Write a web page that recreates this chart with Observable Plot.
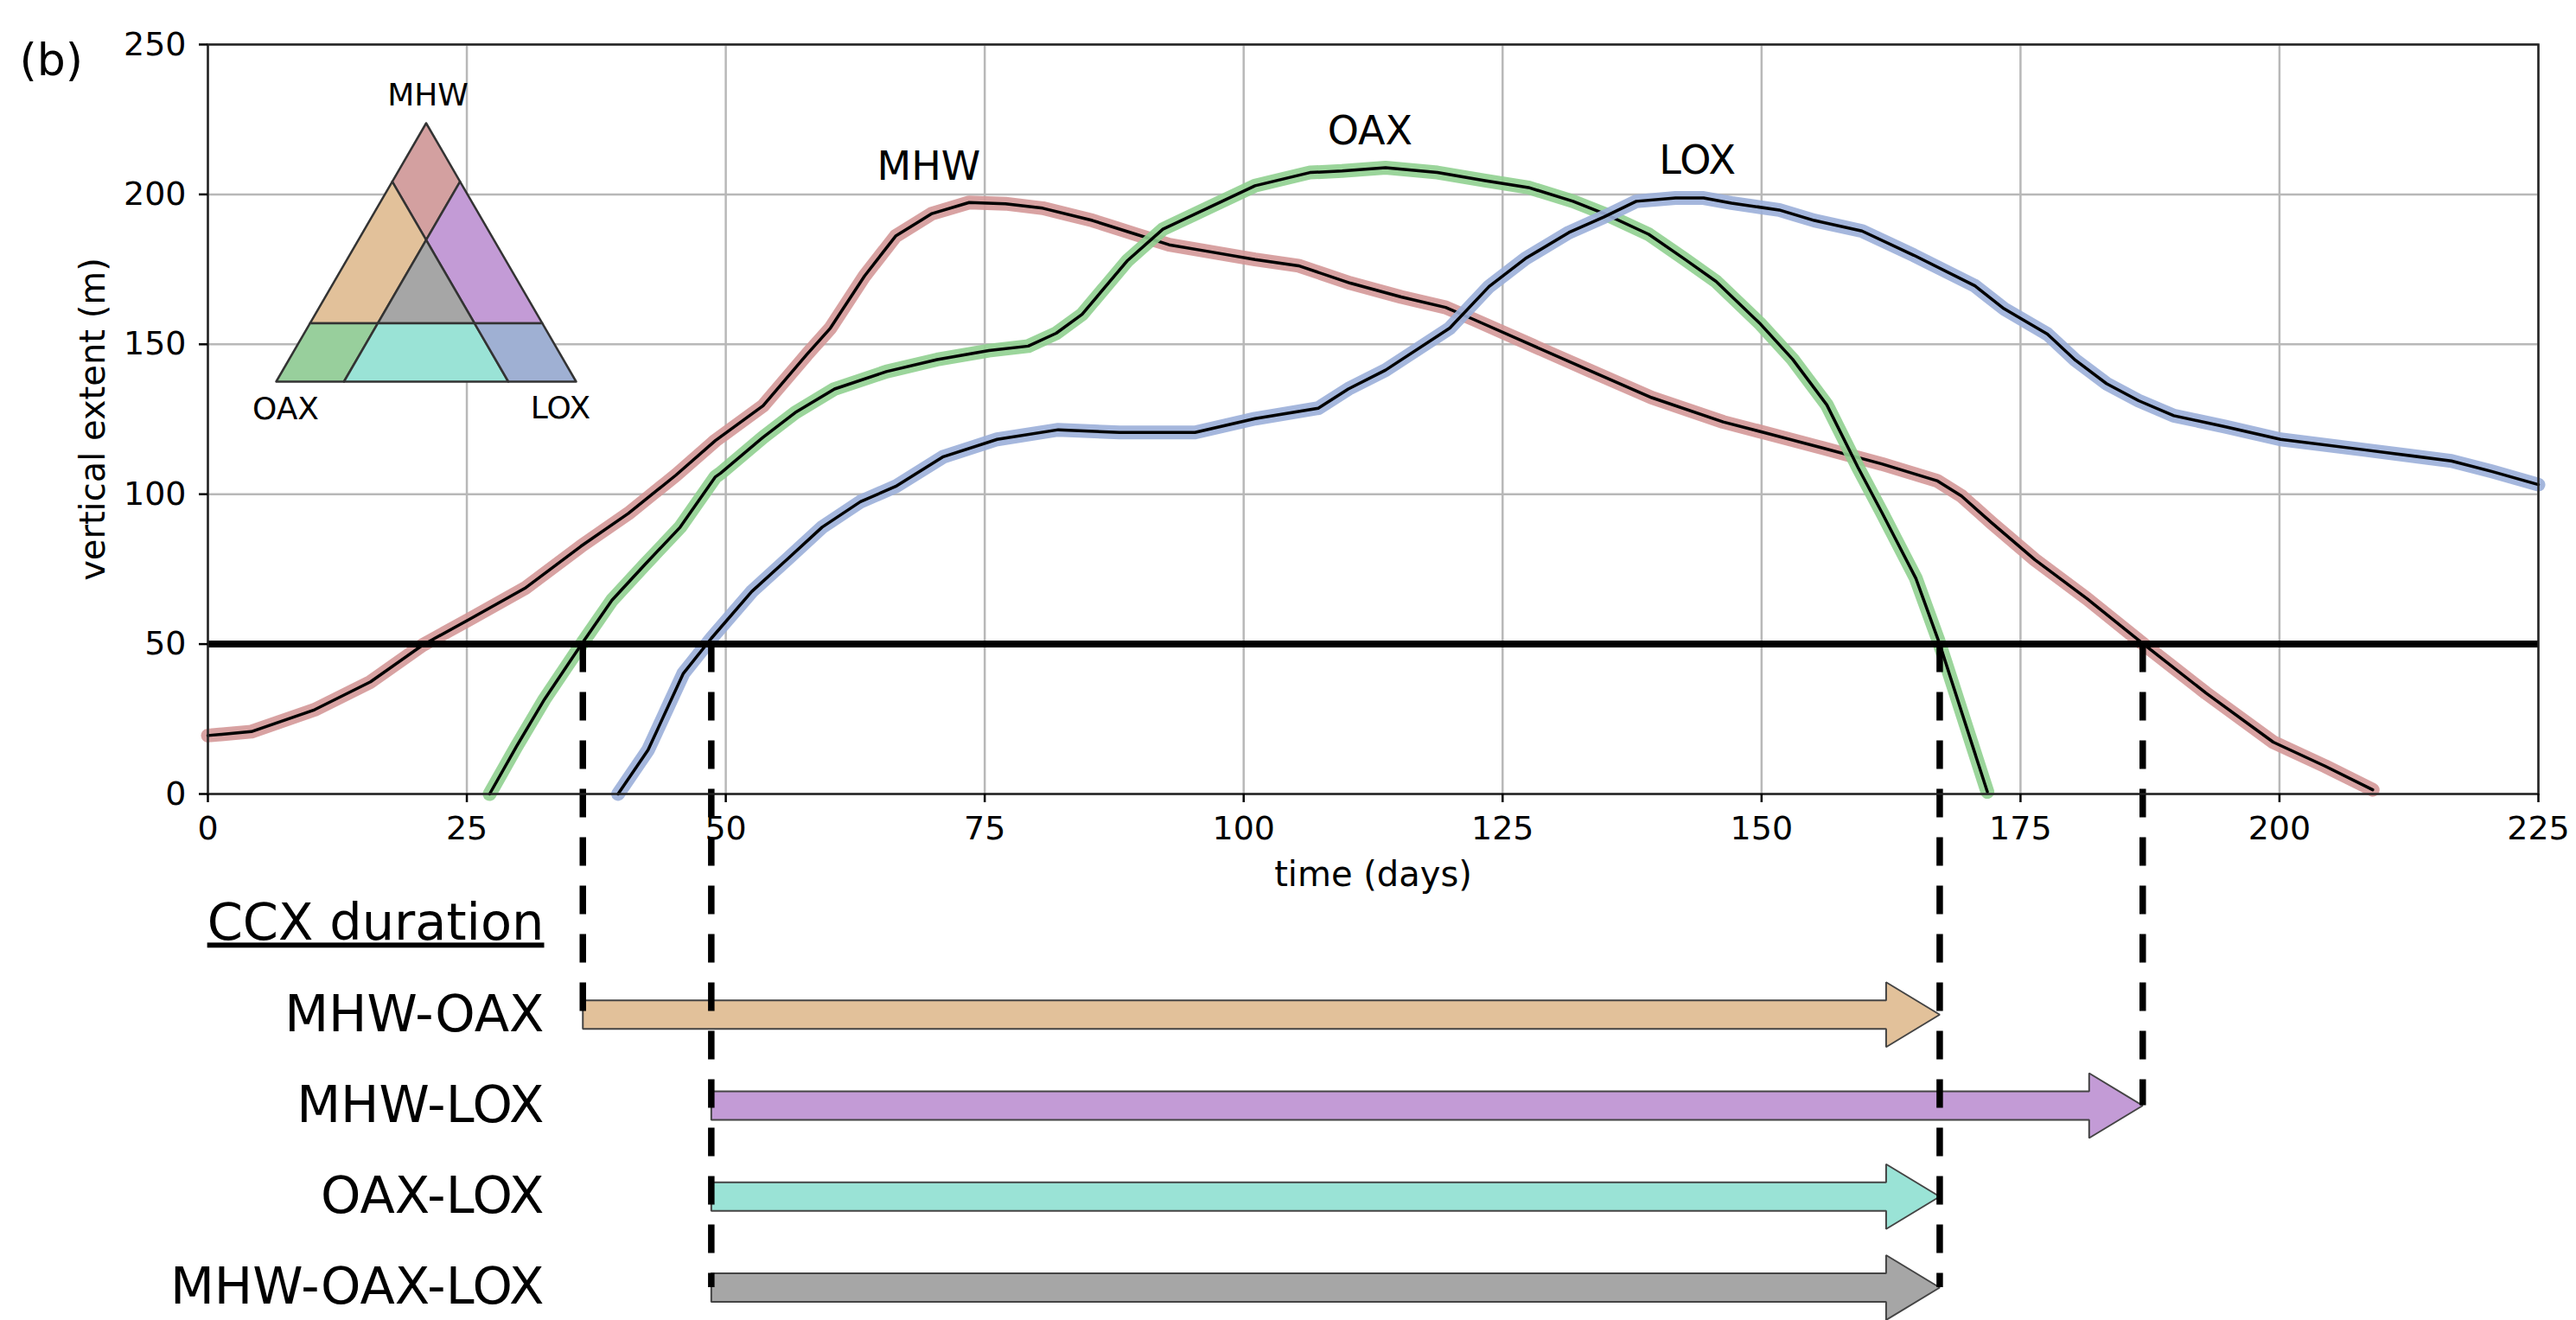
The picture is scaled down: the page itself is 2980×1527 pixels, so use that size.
<!DOCTYPE html>
<html><head><meta charset="utf-8">
<script src="https://cdn.jsdelivr.net/npm/d3@7"></script>
<script src="https://cdn.jsdelivr.net/npm/@observablehq/plot@0.6"></script>
<style>
html,body{margin:0;padding:0;background:#fff;}
#fig{position:relative;width:2980px;height:1527px;}
#fig > svg, #fig > div > svg{display:block;}
#legend{position:absolute;left:250px;top:60px;}
</style></head><body><div id="fig"></div><script>
// ---------------- data ----------------
const xTicks = [0, 25, 50, 75, 100, 125, 150, 175, 200, 225];
const yTicks = [0, 50, 100, 150, 200, 250];
const threshold = 50;

const mhwDay    = [0, 4.2, 10.3, 15.7, 20.7, 25.2, 30.6, 36.0, 40.6, 45.2, 49.0, 53.6, 57.8, 60.1, 63.4, 66.4, 69.9, 73.5, 77.0, 80.6, 85.4, 89.6, 92.8, 96.7, 101.1, 105.3, 110.3, 115.2, 119.5, 122.2, 127.9, 133.3, 139.4, 146.3, 150.2, 155.9, 161.6, 167.0, 169.3, 172.2, 176.4, 181.4, 186.8, 192.9, 199.4, 204.4, 209.0];
const mhwExtent = [19.5, 20.8, 28.1, 37.4, 49.6, 58.2, 68.6, 82.6, 93.6, 106.4, 117.9, 129.5, 146.5, 155.4, 172.8, 186.1, 193.6, 197.3, 196.9, 195.4, 191.3, 186.7, 183.2, 180.9, 178.3, 176.2, 170.4, 165.8, 162.3, 158.3, 149.6, 141.4, 132.2, 124.1, 120.6, 115.4, 110.1, 104.4, 99.4, 90.5, 78.1, 65.2, 50.2, 33.7, 17.3, 9.3, 1.4];

const oaxDay    = [27.2, 29.8, 32.5, 36.0, 39.0, 42.1, 45.6, 49.0, 49.5, 53.6, 56.7, 60.5, 65.5, 70.4, 75.4, 79.2, 81.9, 84.4, 88.8, 92.2, 96.5, 101.1, 106.4, 109.5, 113.7, 118.7, 123.3, 127.5, 131.8, 134.8, 139.1, 142.5, 145.6, 149.8, 153.0, 156.3, 159.3, 161.6, 164.9, 167.2, 171.8];
const oaxExtent = [0, 15.9, 31.6, 49.6, 64.6, 76.2, 89.0, 105.8, 107.0, 119.0, 127.2, 135.1, 140.9, 144.9, 147.9, 149.4, 153.7, 160.0, 178.0, 188.4, 195.4, 202.9, 207.3, 207.8, 208.9, 207.3, 204.6, 202.3, 197.7, 193.6, 186.7, 178.6, 171.0, 157.1, 145.0, 129.8, 109.0, 94.0, 71.9, 50.0, 0.7];

const loxDay    = [39.6, 42.5, 45.9, 48.6, 52.5, 56.0, 59.3, 63.0, 66.4, 71.0, 76.2, 82.1, 88.0, 95.3, 101.1, 107.2, 110.1, 113.7, 119.9, 123.7, 127.2, 131.4, 134.8, 137.9, 141.7, 144.4, 147.1, 151.7, 155.1, 159.7, 164.7, 170.6, 173.4, 177.6, 180.3, 183.3, 186.4, 189.8, 194.8, 200.1, 208.2, 216.6, 220.5, 225.0];
const loxExtent = [0, 14.7, 40.2, 51.9, 67.5, 78.5, 89.0, 97.5, 102.6, 112.5, 118.3, 121.5, 120.6, 120.6, 125.2, 128.7, 135.1, 141.4, 155.4, 169.3, 178.6, 187.3, 192.5, 197.7, 198.8, 198.8, 197.1, 194.8, 191.3, 187.8, 179.7, 169.5, 161.9, 153.4, 144.7, 136.9, 131.2, 126.2, 122.5, 118.3, 114.8, 111.1, 107.6, 103.2];

// drivers, and the days each one crosses the 50 m threshold (up / down)
const drivers   = ["MHW", "OAX", "LOX"];
const onsetDays = [20.7, 36.2, 48.6];
const endDays   = [186.8, 167.2, null]; // LOX stays above 50 m

// series labels
const labelDay    = [69.6, 112.2, 143.8];
const labelExtent = [209, 221, 211];

// compound-extreme combinations (CCX)
const combos = ["MHW-OAX", "MHW-LOX", "OAX-LOX", "MHW-OAX-LOX"];
const headerText = "CCX duration";

// ternary legend regions and colours
const regionNames  = ["MHW", "MHW-OAX", "MHW-LOX", "MHW-OAX-LOX", "OAX", "OAX-LOX", "LOX"];
const regionColors = ["#d3a0a0", "#e2c19a", "#c39bd6", "#a6a6a6", "#98cf9c", "#9ae3d6", "#9fb0d3"];
const haloColors   = ["#d49898", "#90d090", "#9bafd9"];
const ternaryCut = 0.226;

// ---------------- layout ----------------
const W = 2980, topH = 1030, botH = 497;
const mL = 240, mR = 44, mT = 51, plotBottom = 918, mB = topH - plotBottom;
const font = "DejaVu Sans";
const colorOf = name => regionColors[regionNames.indexOf(name)];

const seriesData = [
  {name: "MHW", day: mhwDay, ext: mhwExtent},
  {name: "OAX", day: oaxDay, ext: oaxExtent},
  {name: "LOX", day: loxDay, ext: loxExtent}
].map(s => ({name: s.name, rows: s.day.map((d, i) => ({day: d, extent: s.ext[i]}))}));

// CCX durations: latest onset to earliest end among the members
const arrows = combos.map((c, i) => {
  const mem = c.split("-").map(m => drivers.indexOf(m));
  const start = d3.max(mem, k => onsetDays[k]);
  const end = d3.min(mem, k => endDays[k] == null ? Infinity : endDays[k]);
  return {name: c, row: i + 1, start, end};
});
// dashed cut lines: unique start/end days, down to the lowest row using them
const cutMap = new Map();
for (const a of arrows) for (const d of [a.start, a.end]) cutMap.set(d, Math.max(cutMap.get(d) ?? 0, a.row));
const cuts = Array.from(cutMap, ([day, row]) => ({day, row}));

const dash = [33, 23];
const yPix50 = mT + (1 - threshold / 250) * (plotBottom - mT);
const dashOffset = (topH - yPix50) % (dash[0] + dash[1]);

// ---------------- top chart ----------------
const lineMarks = [];
seriesData.forEach((s, i) => {
  lineMarks.push(Plot.line(s.rows, {x: "day", y: "extent", stroke: haloColors[i], strokeWidth: 16, strokeOpacity: 0.9, strokeLinecap: "round", strokeLinejoin: "round"}));
  lineMarks.push(Plot.line(s.rows, {x: "day", y: "extent", stroke: "black", strokeWidth: 3.5}));
});

const topChart = Plot.plot({
  width: W, height: topH,
  marginLeft: mL, marginRight: mR, marginTop: mT, marginBottom: mB,
  style: {fontFamily: font, fontSize: "38px", color: "black", background: "transparent", overflow: "visible"},
  x: {domain: [0, 225]},
  y: {domain: [0, 250]},
  marks: [
    Plot.gridX(xTicks, {stroke: "#b8b8b8", strokeOpacity: 1, strokeWidth: 2.5}),
    Plot.gridY(yTicks, {stroke: "#b8b8b8", strokeOpacity: 1, strokeWidth: 2.5}),
    ...lineMarks,
    Plot.ruleY([threshold], {stroke: "black", strokeWidth: 8}),
    Plot.ruleX(cuts, {x: "day", y1: threshold, y2: 0, insetBottom: -mB, stroke: "black", strokeWidth: 7.5, strokeDasharray: dash.join(","), strokeLinecap: "butt"}),
    Plot.text(drivers, {x: (d, i) => labelDay[i], y: (d, i) => labelExtent[i], text: d => d, fontSize: 46, fill: "black"}),
    Plot.frame({stroke: "#222", strokeWidth: 2.5}),
    Plot.axisX(xTicks, {tickSize: 10, tickPadding: 16, fontSize: 38, strokeWidth: 2.5, label: null}),
    Plot.axisY(yTicks, {tickSize: 10, tickPadding: 15, fontSize: 38, strokeWidth: 2.5, label: null}),
    Plot.text(["vertical extent (m)"], {frameAnchor: "left", rotate: -90, dx: -132, textAnchor: "middle", lineAnchor: "middle", text: d => d, fontSize: 40, fill: "black"}),
    Plot.text(["time (days)"], {frameAnchor: "bottom", dy: 94, textAnchor: "middle", lineAnchor: "middle", text: d => d, fontSize: 40, fill: "black"}),
    Plot.text(["(b)"], {frameAnchor: "top-left", dx: -218, dy: 19, textAnchor: "start", lineAnchor: "middle", text: d => d, fontSize: 52, fill: "black"})
  ]
});

// ---------------- bottom chart (CCX duration arrows) ----------------
const rowStep = (botH - 76) / combos.length;  // px per row
const bodyHalf = 16.5 / rowStep, headHalf = 37.5 / rowStep, headLen = 62 / ((W - mL - mR) / 225);
const arrowPts = [];
for (const a of arrows) {
  const hx = a.end - headLen;
  const pts = [[a.start, a.row - bodyHalf], [hx, a.row - bodyHalf], [hx, a.row - headHalf], [a.end, a.row],
               [hx, a.row + headHalf], [hx, a.row + bodyHalf], [a.start, a.row + bodyHalf], [a.start, a.row - bodyHalf]];
  for (const [x, y] of pts) arrowPts.push({name: a.name, color: colorOf(a.name), x, y});
}
const rowLabels = [headerText, ...combos];

const bottomChart = Plot.plot({
  width: W, height: botH,
  marginLeft: mL, marginRight: mR, marginTop: 38, marginBottom: 38,
  style: {fontFamily: font, fontSize: "59px", color: "black", background: "transparent", overflow: "visible"},
  x: {domain: [0, 225], axis: null},
  y: {domain: [0, combos.length], reverse: true, axis: null},
  color: {type: "identity"},
  marks: [
    Plot.line(arrowPts, {x: "x", y: "y", z: "name", fill: "color", stroke: "#444", strokeWidth: 2, strokeLinejoin: "miter"}),
    Plot.ruleX(cuts, {x: "day", y1: 0, y2: "row", insetTop: -38, stroke: "black", strokeWidth: 7.5, strokeDasharray: dash.join(","), strokeDashoffset: dashOffset, strokeLinecap: "butt"}),
    Plot.text(rowLabels, {y: (d, i) => i, text: d => d, frameAnchor: "left", dx: 389, textAnchor: "end", lineAnchor: "middle", fontSize: 59, fill: "black"})
  ]
});
d3.select(bottomChart).selectAll("text").filter(function () { return this.textContent === headerText; })
  .attr("text-decoration", "underline").style("text-decoration", "underline");

// ---------------- ternary legend ----------------
function clip(poly, f) {
  const out = [];
  for (let i = 0; i < poly.length; i++) {
    const P = poly[i], Q = poly[(i + 1) % poly.length];
    const fp = f(P), fq = f(Q);
    if (fp >= 0) out.push(P);
    if ((fp >= 0) !== (fq >= 0)) { const s = fp / (fp - fq); out.push(P.map((p, k) => p + s * (Q[k] - p))); }
  }
  return out;
}
const toXY = ([a, b, c]) => [a * 0.5 + c, a * Math.sqrt(3) / 2];
const regionPts = [];
for (const name of regionNames) {
  const mem = drivers.map(d => name.split("-").includes(d));
  let poly = [[1, 0, 0], [0, 1, 0], [0, 0, 1]];
  mem.forEach((on, k) => { poly = clip(poly, v => on ? v[k] - ternaryCut : ternaryCut - v[k]); });
  const closed = [...poly, poly[0]];
  for (const v of closed) { const [x, y] = toXY(v); regionPts.push({name, color: colorOf(name), x, y}); }
}
const cornerXY = [[0.5, Math.sqrt(3) / 2], [0, 0], [1, 0]];
const cornerDx = [2, 11, -18], cornerDy = [-32, 32, 31];

const legendChart = Plot.plot({
  width: 500, height: 420,
  marginLeft: 69, marginRight: 84, marginTop: 82, marginBottom: 39,
  style: {fontFamily: font, fontSize: "36px", color: "black", background: "transparent", overflow: "visible"},
  x: {domain: [0, 1], axis: null},
  y: {domain: [0, Math.sqrt(3) / 2], axis: null},
  color: {type: "identity"},
  marks: [
    Plot.line(regionPts, {x: "x", y: "y", z: "name", fill: "color", stroke: "#333", strokeWidth: 2.5, strokeLinejoin: "round"}),
    ...drivers.map((d, i) => Plot.text([d], {x: cornerXY[i][0], y: cornerXY[i][1], dx: cornerDx[i], dy: cornerDy[i], text: t => t, fontSize: 36, fill: "black"}))
  ]
});

const fig = document.getElementById("fig");
fig.appendChild(topChart);
fig.appendChild(bottomChart);
const lg = document.createElement("div");
lg.id = "legend";
lg.appendChild(legendChart);
fig.appendChild(lg);
</script></body></html>
